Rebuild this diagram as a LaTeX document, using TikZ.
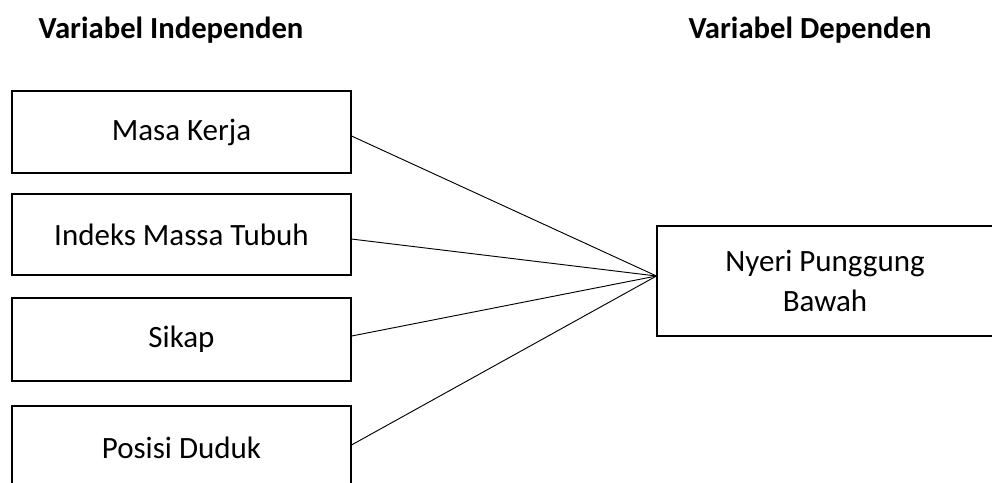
\documentclass[tikz,border=0pt]{standalone}
\usepackage{fontspec}
\setmainfont{Carlito}
\begin{document}
\begin{tikzpicture}[x=0.75pt,y=-0.75pt,
  box/.style={draw,line width=0.8pt,minimum width=254.25pt,inner sep=0pt,align=center,font=\fontsize{23.25pt}{30pt}\selectfont},
  title/.style={font=\fontsize{23pt}{28pt}\selectfont\bfseries,inner sep=0pt},
  link/.style={line width=0.7pt}]
\useasboundingbox (0,0) rectangle (992,482);
\clip (0,0) rectangle (992,482);
\node[title] (ti) at (171,30) {Variabel Independen};
\node[title] (td) at (810,30) {Variabel Dependen};
\node[box,minimum height=61.5pt] (m1) at (181.5,132) {Masa Kerja};
\node[box,minimum height=60.75pt] (m2) at (181.5,234.5) {Indeks Massa Tubuh};
\node[box,minimum height=62.25pt] (m3) at (181.5,339.5) {Sikap};
\node[box,minimum height=62.25pt] (m4) at (181.5,447.5) {Posisi Duduk};
\node[box,minimum width=252pt,minimum height=82.5pt] (ny) at (825,281) {Nyeri Punggung\\Bawah};
\coordinate (hub) at ([yshift=3.75pt]ny.west);
\draw[link] ([yshift=-3pt]m1.east) -- (hub);
\draw[link] ([yshift=-3.4pt]m2.east) -- (hub);
\draw[link] ([yshift=2.6pt]m3.east) -- (hub);
\draw[link] ([yshift=1.9pt]m4.east) -- (hub);
\end{tikzpicture}
\end{document}
